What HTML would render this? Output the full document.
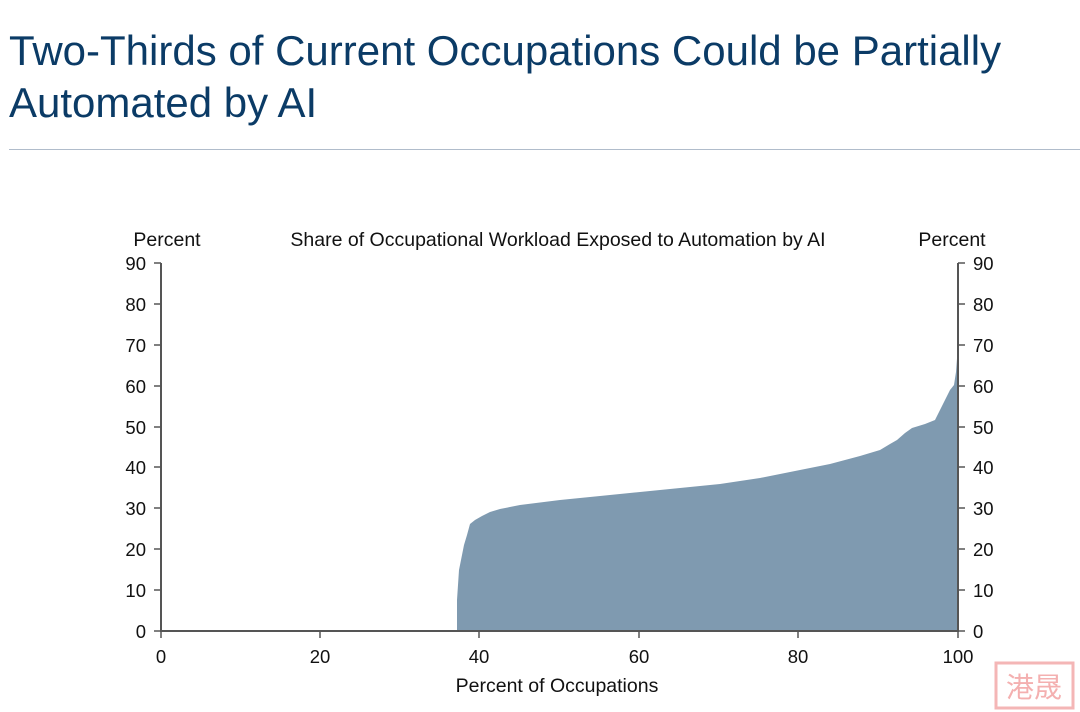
<!DOCTYPE html>
<html><head><style>
body{margin:0;width:1080px;height:712px;background:#fff;overflow:hidden;font-family:"Liberation Sans",Arial,sans-serif;}
h1{position:absolute;left:9px;top:25px;margin:0;font-weight:normal;font-size:42px;line-height:52px;color:#0b3b66;}
.sep{position:absolute;left:9px;top:149px;width:1071px;height:1px;background:#b0bccb;}
</style></head><body>
<h1>Two-Thirds of Current Occupations Could be Partially<br>Automated by AI</h1>
<div class="sep"></div>
<svg width="1080" height="712" style="position:absolute;left:0;top:0" font-family="Liberation Sans, Arial, sans-serif" font-size="18.5" fill="#111">
<path d="M457,631 L457,600 L459,570 L461,560 L464,545 L467,535 L470,524 L475,520 L482,516 L490,512 L500,509 L520,505 L560,500 L600,496 L640,492 L680,488 L720,484 L760,478 L800,470 L830,464 L860,456 L880,450 L890,444 L897,440 L905,433 L912,428 L925,424 L935,420 L940,410 L945,400 L950,390 L954,385 L956,372 L958,345 L958,631 Z" fill="#7f9ab0"/>
<g stroke="#555" stroke-width="2" fill="none">
<line x1="161" y1="263" x2="161" y2="631"/>
<line x1="958" y1="263" x2="958" y2="631"/>
<line x1="160" y1="631" x2="959" y2="631"/>
</g>
<g stroke="#555" stroke-width="1.5">
<line x1="154" y1="263" x2="161" y2="263"/><line x1="154" y1="304" x2="161" y2="304"/><line x1="154" y1="345" x2="161" y2="345"/><line x1="154" y1="386" x2="161" y2="386"/><line x1="154" y1="427" x2="161" y2="427"/><line x1="154" y1="467" x2="161" y2="467"/><line x1="154" y1="508" x2="161" y2="508"/><line x1="154" y1="549" x2="161" y2="549"/><line x1="154" y1="590" x2="161" y2="590"/><line x1="154" y1="631" x2="161" y2="631"/>
<line x1="958" y1="263" x2="965" y2="263"/><line x1="958" y1="304" x2="965" y2="304"/><line x1="958" y1="345" x2="965" y2="345"/><line x1="958" y1="386" x2="965" y2="386"/><line x1="958" y1="427" x2="965" y2="427"/><line x1="958" y1="467" x2="965" y2="467"/><line x1="958" y1="508" x2="965" y2="508"/><line x1="958" y1="549" x2="965" y2="549"/><line x1="958" y1="590" x2="965" y2="590"/><line x1="958" y1="631" x2="965" y2="631"/>
<line x1="161" y1="631" x2="161" y2="638"/><line x1="320" y1="631" x2="320" y2="638"/><line x1="479" y1="631" x2="479" y2="638"/><line x1="639" y1="631" x2="639" y2="638"/><line x1="798" y1="631" x2="798" y2="638"/><line x1="958" y1="631" x2="958" y2="638"/>
</g>
<g text-anchor="end">
<text x="146" y="270">90</text><text x="146" y="311">80</text><text x="146" y="352">70</text><text x="146" y="393">60</text><text x="146" y="434">50</text><text x="146" y="474">40</text><text x="146" y="515">30</text><text x="146" y="556">20</text><text x="146" y="597">10</text><text x="146" y="638">0</text>
</g>
<g text-anchor="start">
<text x="973" y="270">90</text><text x="973" y="311">80</text><text x="973" y="352">70</text><text x="973" y="393">60</text><text x="973" y="434">50</text><text x="973" y="474">40</text><text x="973" y="515">30</text><text x="973" y="556">20</text><text x="973" y="597">10</text><text x="973" y="638">0</text>
</g>
<g text-anchor="middle">
<text x="161" y="663">0</text><text x="320" y="663">20</text><text x="479" y="663">40</text><text x="639" y="663">60</text><text x="798" y="663">80</text><text x="958" y="663">100</text>
<text x="557" y="692" font-size="19.5">Percent of Occupations</text>
<text x="558" y="246" font-size="19.5">Share of Occupational Workload Exposed to Automation by AI</text>
<text x="167" y="246" font-size="19.5">Percent</text>
<text x="952" y="246" font-size="19.5">Percent</text>
</g>
<rect x="996" y="663" width="77" height="45" fill="#fff" stroke="#f4b6b6" stroke-width="3"/>
<text x="1034" y="697" text-anchor="middle" font-size="28" fill="#f4b0b0" font-family="Noto Sans CJK SC, sans-serif">港晟</text>
</svg>
</body></html>
